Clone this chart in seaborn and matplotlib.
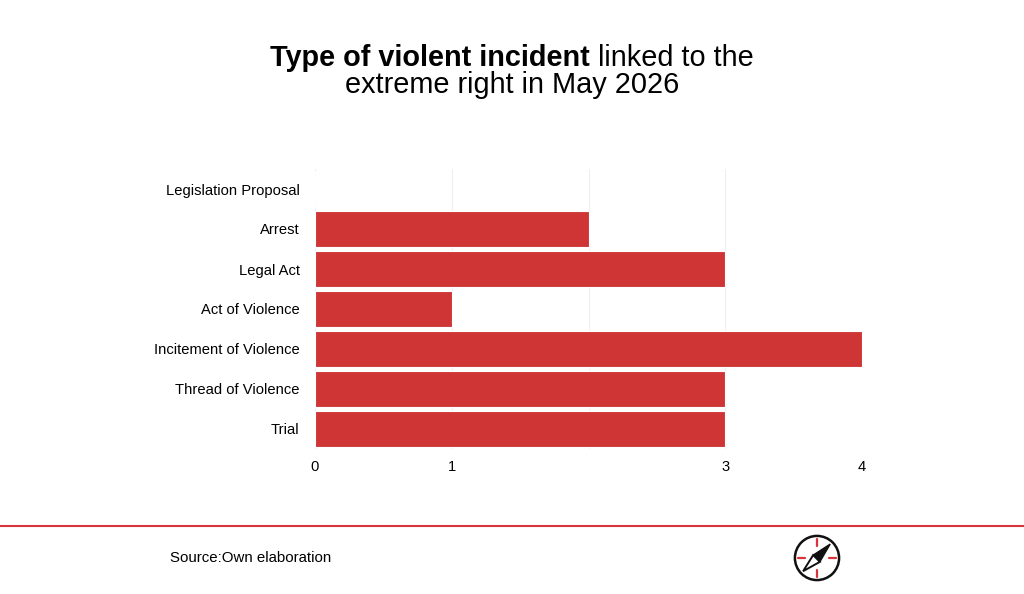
import matplotlib
matplotlib.use("Agg")
import matplotlib.pyplot as plt
import matplotlib.patches as mpatches
import pandas as pd
import seaborn as sns

categories = ["Legislation Proposal", "Arrest", "Legal Act", "Act of Violence",
              "Incitement of Violence", "Thread of Violence", "Trial"]
counts = [0, 2, 3, 1, 4, 3, 3]
x_ticks = [0, 1, 2, 3, 4]
x_tick_labels = ["0", "1", "", "3", "4"]

title_bold = "Type of violent incident"
title_rest = " linked to the"
title_line2 = "extreme right in May 2026"
source_text = "Source:Own elaboration"

bar_color = "#cf3535"
accent = "#d9343a"

sns.set_theme(style="white")
plt.rcParams["font.family"] = ["Liberation Sans", "DejaVu Sans"]
plt.rcParams["text.color"] = "black"

df = pd.DataFrame({"category": categories, "count": counts})

fig = plt.figure(figsize=(10.24, 5.94), dpi=100)
ax = fig.add_axes([315 / 1024, 1 - 449 / 594, 547 / 1024, 280 / 594])

sns.barplot(data=df, x="count", y="category", color=bar_color, saturation=1,
            width=0.9, edgecolor="white", linewidth=0.8, ax=ax)

ax.set_xlim(0, 4)
ax.set_xticks(x_ticks)
ax.set_xticklabels(x_tick_labels)
ax.set_xlabel("")
ax.set_ylabel("")
ax.tick_params(axis="both", length=0, labelsize=10.6, colors="black")
ax.tick_params(axis="x", pad=8)
ax.tick_params(axis="y", pad=11)
ax.grid(axis="x", color="#efefef", linewidth=0.8)
ax.set_axisbelow(True)
for s in ax.spines.values():
    s.set_visible(False)

# title with bold first part
fig.canvas.draw()
r = fig.canvas.get_renderer()
t1 = fig.text(0, 1 - 66 / 594, title_bold, fontsize=20.8, fontweight="bold",
              va="baseline", ha="left")
t2 = fig.text(0, 1 - 66 / 594, title_rest, fontsize=20.8, va="baseline", ha="left")
w1 = t1.get_window_extent(r).width
w2 = t2.get_window_extent(r).width
x0 = (1024 - (w1 + w2)) / 2
t1.set_x(x0 / 1024)
t2.set_x((x0 + w1) / 1024)
fig.text(0.5, 1 - 93 / 594, title_line2, fontsize=20.8, va="baseline", ha="center")

# footer
fig.add_artist(plt.Line2D([0, 1], [1 - 526 / 594] * 2, color=accent, lw=1.5,
                          transform=fig.transFigure))
fig.text(170 / 1024, 1 - 558 / 594, source_text, fontsize=10.8, va="center",
         ha="left", color="black")

# compass logo
logo = fig.add_axes([793 / 1024, 1 - 582 / 594, 48 / 1024, 48 / 594])
logo.set_xlim(-1, 1)
logo.set_ylim(-1, 1)
logo.set_aspect("equal")
logo.axis("off")
logo.add_patch(mpatches.Circle((0, 0), 0.92, fill=False, lw=1.8, ec="#111111"))
for dx, dy in [(0, 1), (0, -1), (1, 0), (-1, 0)]:
    logo.plot([dx * 0.5, dx * 0.78], [dy * 0.5, dy * 0.78], color=accent, lw=1.6)
logo.add_patch(mpatches.Polygon([(0.55, 0.58), (0.12, -0.16), (-0.16, 0.12)],
                                closed=True, fc="#111111", ec="#111111"))
logo.add_patch(mpatches.Polygon([(-0.58, -0.55), (0.12, -0.16), (-0.16, 0.12)],
                                closed=True, fc="white", ec="#111111", lw=1.4))

fig.savefig("out.png", dpi=100, facecolor="white")
